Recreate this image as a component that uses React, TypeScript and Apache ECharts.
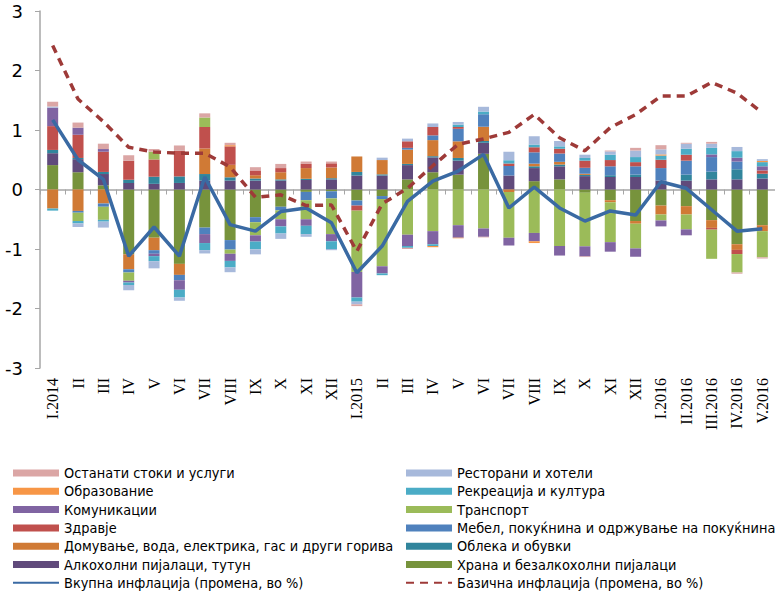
import React, { useEffect, useRef } from "react";
import * as echarts from "echarts";

// Month labels on the category axis
const months = [
  "I.2014", "II", "III", "IV", "V", "VI", "VII", "VIII", "IX", "X", "XI", "XII",
  "I.2015", "II", "III", "IV", "V", "VI", "VII", "VIII", "IX", "X", "XI", "XII",
  "I.2016", "II.2016", "III.2016", "IV.2016", "V.2016",
];

// Contributions to annual inflation, percentage points (stack order bottom -> top)
const hrana = [0.41, 0.29, 0.07, -1.09, -0.81, -1.25, -0.64, -0.85, -0.465, -0.29, -0.04, -0.03,
  -0.185, -0.11, 0.17, 0.29, 0.25, 0.6, 0, 0.14, 0.17, -0.055, -0.18, -0.53,
  -0.27, -0.28, -0.515, -0.92, -0.6];
const alkohol = [0.2, 0.22, 0.19, 0.11, 0.095, 0.11, 0.15, 0.15, 0.15, 0.15, 0.16, 0.17,
  0.235, 0.235, 0.24, 0.25, 0.235, 0.185, 0.235, 0.22, 0.22, 0.225, 0.21, 0.21,
  0.15, 0.15, 0.17, 0.17, 0.185];
const obleka = [0.055, 0.02, 0.035, 0.055, 0.12, 0.11, 0.11, 0.055, 0.035, 0.02, 0.02, 0.02,
  0.06, 0.02, 0.02, 0.02, 0.045, 0.03, 0, 0.03, 0.03, 0.02, 0.03, 0.04,
  0, 0.1, 0.13, 0.17, 0.08];
const domuvanje = [-0.32, -0.36, -0.235, -0.25, -0.21, -0.185, 0.43, 0.21, 0.055, 0.12, 0.18, 0.18,
  0.26, 0.24, 0.24, 0.27, 0.28, 0.24, -0.04, 0.045, 0.045, 0.02, -0.035, -0.045,
  -0.15, -0.14, -0.13, -0.095, -0.1];
const mebel = [0, -0.03, -0.055, -0.055, -0.06, -0.09, -0.11, -0.16, -0.085, -0.06, -0.14, -0.12,
  -0.085, -0.05, 0.03, 0.08, 0.21, 0.21, 0.16, 0.19, 0.14, 0.1, 0.15, 0.14,
  0.21, 0.235, 0.245, 0.13, 0];
const zdravje = [0.4, 0.39, 0.34, 0.32, 0.29, 0.43, 0.36, 0.31, 0.08, 0.07, 0.07, 0.07,
  -0.085, 0, 0.11, 0.14, 0.03, 0, 0.04, 0.085, 0.08, 0.12, 0.105, 0.07,
  0.14, 0.1, -0.03, -0.07, 0.055];
const transport = [0, -0.14, -0.22, -0.14, 0.13, 0, 0.16, -0.07, -0.22, -0.15, -0.32, -0.6,
  -1.03, -1.13, -0.76, -0.7, -0.6, -0.655, -0.77, -0.73, -0.95, -0.9, -0.67, -0.415,
  -0.1, -0.25, -0.49, -0.31, -0.44];
const komunikacii = [0.31, 0.12, 0.045, -0.03, -0.04, -0.16, -0.15, -0.12, -0.105, -0.12, -0.11, -0.12,
  -0.43, -0.12, -0.19, -0.22, -0.21, -0.14, -0.13, -0.14, -0.16, -0.17, -0.16, -0.14,
  -0.1, -0.1, 0.045, 0.065, 0.07];
const rekreacija = [-0.035, -0.04, -0.03, -0.04, -0.085, -0.13, -0.12, -0.11, -0.13, -0.12, -0.14, -0.13,
  -0.07, -0.03, -0.03, -0.03, 0.04, 0.045, 0.055, 0.045, 0.04, 0.045, 0.09, 0.085,
  0.07, 0.1, 0.11, 0.11, 0.07];
const obrazovanie = [0, 0, 0, 0, 0, 0, 0, 0.02, 0, 0, 0, 0,
  0, 0, 0, -0.02, -0.01, 0, 0, -0.03, 0, 0, 0, 0,
  0.02, 0, 0, 0, 0.02];
const restorani = [0.02, -0.06, -0.1, -0.09, -0.12, -0.055, -0.055, -0.08, -0.085, -0.09, -0.045, -0.02,
  -0.045, 0.04, 0.045, 0.06, 0.045, 0.08, 0.145, 0.14, 0.09, 0.055, 0.055, 0.11,
  0.085, 0.085, 0.07, 0.07, 0.03];
const ostanati = [0.08, 0.085, 0.09, 0.09, 0.045, 0.09, 0.07, 0.04, 0.055, 0.07, 0.04, 0.03,
  -0.03, 0, -0.02, 0, 0, -0.01, 0, 0, 0, -0.01, 0.015, 0.045,
  0.07, 0.015, 0.03, -0.02, -0.02];

// Headline and core inflation, % change
const vkupna = [1.17, 0.5, 0.17, -1.12, -0.63, -1.12, 0.21, -0.59, -0.7, -0.37, -0.31, -0.56,
  -1.4, -0.95, -0.2, 0.14, 0.31, 0.59, -0.31, 0.04, -0.31, -0.53, -0.36, -0.43,
  0.13, 0.02, -0.34, -0.7, -0.66];
const bazicna = [2.42, 1.52, 1.14, 0.71, 0.63, 0.61, 0.61, 0.38, -0.13, -0.09, -0.27, -0.26,
  -1.04, -0.24, 0.02, 0.4, 0.76, 0.85, 0.96, 1.26, 0.87, 0.65, 1.04, 1.26,
  1.57, 1.57, 1.8, 1.62, 1.29];

const yTicks = { min: -3, max: 3, interval: 1 };

const barSeries = [
  { name: "Храна и безалкохолни пијалаци", data: hrana, color: "#77933C" },
  { name: "Алкохолни пијалаци, тутун", data: alkohol, color: "#604A7B" },
  { name: "Облека и обувки", data: obleka, color: "#31859C" },
  { name: "Домување, вода, електрика, гас и други горива", data: domuvanje, color: "#D07A35" },
  { name: "Мебел, покуќнина и одржување на покуќнина", data: mebel, color: "#4F81BD" },
  { name: "Здравје", data: zdravje, color: "#C0504D" },
  { name: "Транспорт", data: transport, color: "#9BBB59" },
  { name: "Комуникации", data: komunikacii, color: "#8064A2" },
  { name: "Рекреација и култура", data: rekreacija, color: "#4BACC6" },
  { name: "Образование", data: obrazovanie, color: "#F79646" },
  { name: "Ресторани и хотели", data: restorani, color: "#A7B9DB" },
  { name: "Останати стоки и услуги", data: ostanati, color: "#DBA6A5" },
];

const LINE_TOTAL = "Вкупна инфлација (промена, во %)";
const LINE_CORE = "Базична инфлација (промена, во %)";

const leftLegend = [
  "Останати стоки и услуги",
  "Образование",
  "Комуникации",
  "Здравје",
  "Домување, вода, електрика, гас и други горива",
  "Алкохолни пијалаци, тутун",
  LINE_TOTAL,
];
const rightLegend = [
  "Ресторани и хотели",
  "Рекреација и култура",
  "Транспорт",
  "Мебел, покуќнина и одржување на покуќнина",
  "Облека и обувки",
  "Храна и безалкохолни пијалаци",
  LINE_CORE,
];

const legendFont = "'DejaVu Sans Condensed', 'DejaVu Sans', sans-serif";
// Bars get a plain rectangle; lines keep their stroke but hide the centre marker
const toLegendData = (names: string[]) =>
  names.map((n) =>
    n === LINE_TOTAL || n === LINE_CORE
      ? { name: n, itemStyle: { opacity: 0, color: "rgba(0,0,0,0)", borderWidth: 0 } }
      : { name: n, icon: "rect" }
  );

const legendBase = {
  orient: "vertical",
  top: 466,
  itemWidth: 46,
  itemHeight: 7,
  itemGap: 4.3,
  selectedMode: false,
  padding: 0,
  textStyle: { fontFamily: legendFont, fontSize: 14.4, lineHeight: 14, color: "#000" },
};

export default function App() {
  const ref = useRef<HTMLDivElement>(null);

  useEffect(() => {
    if (!ref.current) return;
    const chart = echarts.init(ref.current, undefined, { renderer: "svg" });

    const series: any[] = barSeries.map((s) => ({
      name: s.name,
      type: "bar",
      stack: "contrib",
      barWidth: 11,
      data: s.data,
      itemStyle: { color: s.color },
      z: 2,
    }));
    series.push({
      name: LINE_TOTAL,
      type: "line",
      data: vkupna,
      symbol: "none",
      lineStyle: { color: "#3A6AA3", width: 3.5 },
      itemStyle: { color: "#3A6AA3" },
      z: 5,
    });
    series.push({
      name: LINE_CORE,
      type: "line",
      data: bazicna,
      symbol: "none",
      lineStyle: { color: "#9E3A38", width: 3.5, type: [8, 6] },
      itemStyle: { color: "#9E3A38" },
      z: 6,
    });

    chart.setOption({
      animation: false,
      grid: { left: 40, top: 11, right: 0, bottom: 226, containLabel: false },
      legend: [
        { ...legendBase, left: 12, data: toLegendData(leftLegend) },
        { ...legendBase, left: 405, data: toLegendData(rightLegend) },
      ],
      xAxis: [
        {
          type: "category",
          data: months,
          position: "bottom",
          axisLine: { onZero: true, lineStyle: { color: "#A6A6A6", width: 1.5 } },
          axisTick: { show: true, length: 5, interval: 0, lineStyle: { color: "#A6A6A6" } },
          axisLabel: { show: false },
          splitLine: { show: false },
        },
        {
          type: "category",
          data: months,
          position: "bottom",
          axisLine: { show: false, onZero: false },
          axisTick: { show: false },
          axisLabel: {
            interval: 0,
            rotate: 90,
            margin: 10,
            fontFamily: "'Liberation Serif', 'Times New Roman', serif",
            fontSize: 16,
            color: "#000",
          },
          splitLine: { show: false },
        },
      ],
      yAxis: {
        type: "value",
        min: yTicks.min,
        max: yTicks.max,
        interval: yTicks.interval,
        axisLine: { show: true, lineStyle: { color: "#A6A6A6", width: 1.5 } },
        axisTick: { show: true, length: 5, lineStyle: { color: "#A6A6A6" } },
        axisLabel: {
          margin: 17,
          fontFamily: "'DejaVu Sans', Verdana, sans-serif",
          fontSize: 18,
          color: "#000",
        },
        splitLine: { show: false },
      },
      series,
    });

    return () => chart.dispose();
  }, []);

  return (
    <div
      ref={ref}
      style={{ position: "absolute", left: 0, top: 0, width: 775, height: 594, background: "#fff" }}
    />
  );
}
